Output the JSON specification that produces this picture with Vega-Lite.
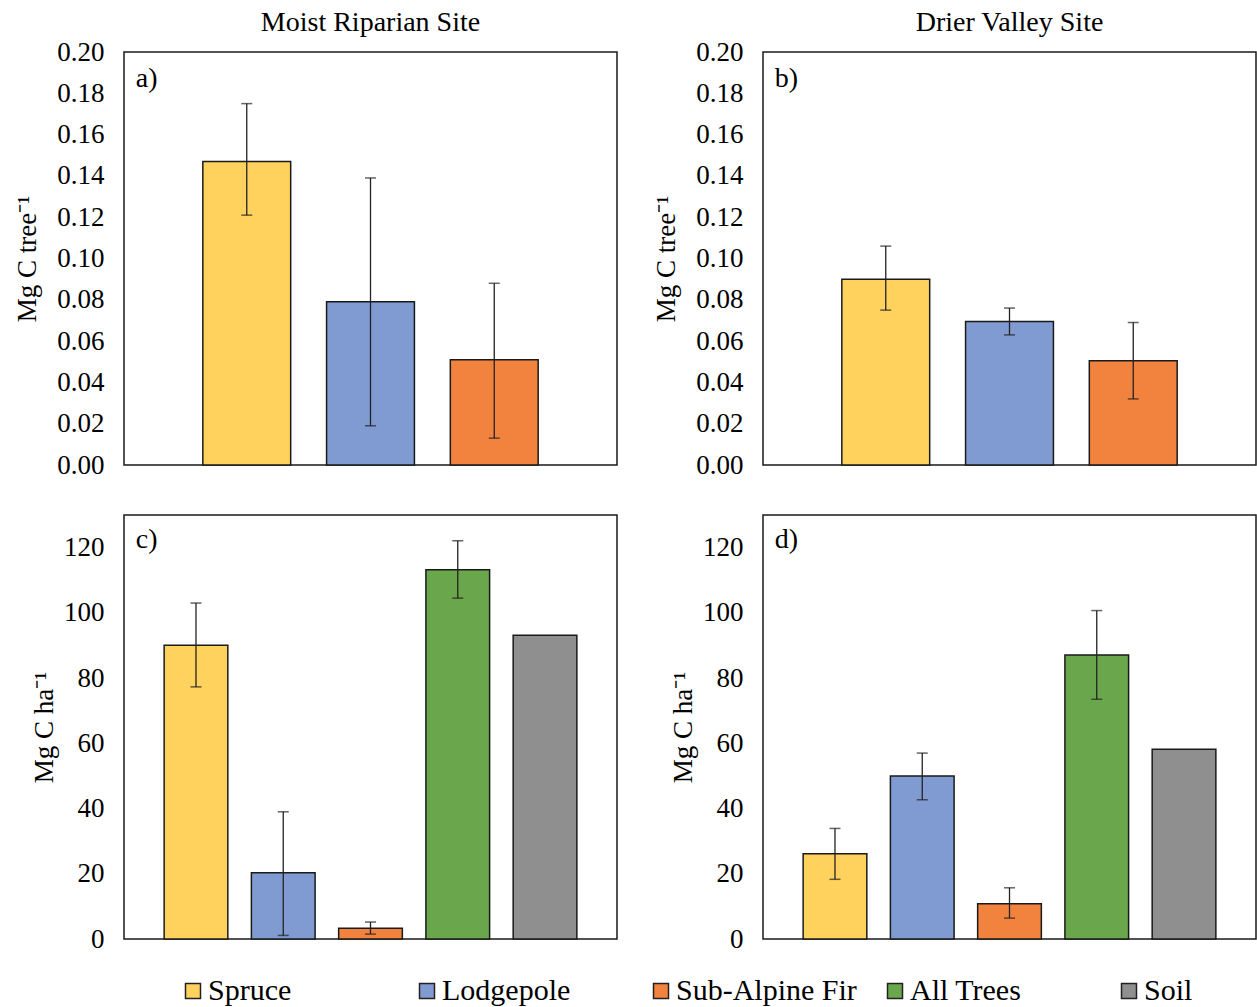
{
  "$schema": "https://vega.github.io/schema/vega-lite/v6.json",
  "padding": {"left": 13, "top": 8, "right": 0, "bottom": 0},
  "datasets": {
    "vals": [
      {"panel": "a", "species": "Spruce", "value": 0.147, "lo": 0.121, "hi": 0.175},
      {"panel": "a", "species": "Lodgepole", "value": 0.079, "lo": 0.019, "hi": 0.139},
      {"panel": "a", "species": "Sub-Alpine Fir", "value": 0.051, "lo": 0.013, "hi": 0.088},
      {"panel": "b", "species": "Spruce", "value": 0.090, "lo": 0.075, "hi": 0.106},
      {"panel": "b", "species": "Lodgepole", "value": 0.0695, "lo": 0.063, "hi": 0.076},
      {"panel": "b", "species": "Sub-Alpine Fir", "value": 0.0505, "lo": 0.032, "hi": 0.069},
      {"panel": "c", "species": "Spruce", "value": 90.1, "lo": 77.3, "hi": 103.0},
      {"panel": "c", "species": "Lodgepole", "value": 20.3, "lo": 1.1, "hi": 39.0},
      {"panel": "c", "species": "Sub-Alpine Fir", "value": 3.3, "lo": 1.5, "hi": 5.2},
      {"panel": "c", "species": "All Trees", "value": 113.2, "lo": 104.5, "hi": 122.1},
      {"panel": "c", "species": "Soil", "value": 93.1},
      {"panel": "d", "species": "Spruce", "value": 26.1, "lo": 18.3, "hi": 33.9},
      {"panel": "d", "species": "Lodgepole", "value": 50.0, "lo": 42.7, "hi": 57.0},
      {"panel": "d", "species": "Sub-Alpine Fir", "value": 10.8, "lo": 6.4, "hi": 15.7},
      {"panel": "d", "species": "All Trees", "value": 87.1, "lo": 73.5, "hi": 100.7},
      {"panel": "d", "species": "Soil", "value": 58.2}
    ],
    "labels": [
      {"panel": "a", "label": "a)"},
      {"panel": "b", "label": "b)"},
      {"panel": "c", "label": "c)"},
      {"panel": "d", "label": "d)"}
    ]
  },
  "columns": 2,
  "bounds": "flush",
  "spacing": {"row": 50, "column": 146},
  "concat": [
    {
      "title": {"text": "Moist Riparian Site"},
      "width": 493, "height": 413,
      "resolve": {"scale": {"x": "independent"}},
      "layer": [
        {
          "data": {"name": "vals"},
          "transform": [{"filter": "datum.panel == 'a'"}],
          "encoding": {
            "x": {"field": "species", "type": "nominal", "axis": null,
                  "scale": {"domain": ["Spruce", "Lodgepole", "Sub-Alpine Fir"], "paddingInner": 0.29, "paddingOuter": 0.637}}
          },
          "layer": [
            {"mark": {"type": "bar", "stroke": "#1a1a1a", "strokeWidth": 1.5},
             "encoding": {
               "y": {"field": "value", "type": "quantitative", "scale": {"domain": [0, 0.2]}, "title": "Mg C tree⁻¹",
                     "axis": {"values": [0, 0.02, 0.04, 0.06, 0.08, 0.1, 0.12, 0.14, 0.16, 0.18, 0.2], "format": ".2f", "titlePadding": 15}},
               "fill": {"field": "species", "type": "nominal",
                        "scale": {"domain": ["Spruce", "Lodgepole", "Sub-Alpine Fir", "All Trees", "Soil"], "range": ["#FFD25E", "#7F9BD2", "#F2833F", "#6AA64B", "#8F8F8F"]},
                        "legend": {"orient": "none", "legendX": 54, "legendY": 924, "direction": "horizontal", "columns": 5}}
             }},
            {"transform": [{"filter": "isValid(datum.lo)"}],
             "mark": {"type": "rule", "color": "#222", "strokeWidth": 1.3},
             "encoding": {"y": {"field": "lo", "type": "quantitative", "title": "Mg C tree⁻¹"}, "y2": {"field": "hi"}}},
            {"transform": [{"filter": "isValid(datum.lo)"}],
             "mark": {"type": "tick", "color": "#222", "size": 11, "thickness": 1.5},
             "encoding": {"y": {"field": "lo", "type": "quantitative", "title": "Mg C tree⁻¹"}}},
            {"transform": [{"filter": "isValid(datum.hi)"}],
             "mark": {"type": "tick", "color": "#222", "size": 11, "thickness": 1.5},
             "encoding": {"y": {"field": "hi", "type": "quantitative", "title": "Mg C tree⁻¹"}}}
          ]
        },
        {
          "data": {"name": "labels"},
          "transform": [{"filter": "datum.panel == 'a'"}],
          "mark": {"type": "text", "align": "left", "baseline": "middle", "font": "Liberation Serif", "fontSize": 28, "color": "black"},
          "encoding": {
            "x": {"datum": 0.024, "type": "quantitative", "scale": {"domain": [0, 1]}, "axis": null},
            "y": {"datum": 0.187, "type": "quantitative", "title": "Mg C tree⁻¹"},
            "text": {"field": "label"}
          }
        }
      ]
    },
    {
      "title": {"text": "Drier Valley Site"},
      "width": 493, "height": 413,
      "resolve": {"scale": {"x": "independent"}},
      "layer": [
        {
          "data": {"name": "vals"},
          "transform": [{"filter": "datum.panel == 'b'"}],
          "encoding": {
            "x": {"field": "species", "type": "nominal", "axis": null,
                  "scale": {"domain": ["Spruce", "Lodgepole", "Sub-Alpine Fir"], "paddingInner": 0.29, "paddingOuter": 0.637}}
          },
          "layer": [
            {"mark": {"type": "bar", "stroke": "#1a1a1a", "strokeWidth": 1.5},
             "encoding": {
               "y": {"field": "value", "type": "quantitative", "scale": {"domain": [0, 0.2]}, "title": "Mg C tree⁻¹",
                     "axis": {"values": [0, 0.02, 0.04, 0.06, 0.08, 0.1, 0.12, 0.14, 0.16, 0.18, 0.2], "format": ".2f", "titlePadding": 15}},
               "fill": {"field": "species", "type": "nominal"}
             }},
            {"transform": [{"filter": "isValid(datum.lo)"}],
             "mark": {"type": "rule", "color": "#222", "strokeWidth": 1.3},
             "encoding": {"y": {"field": "lo", "type": "quantitative", "title": "Mg C tree⁻¹"}, "y2": {"field": "hi"}}},
            {"transform": [{"filter": "isValid(datum.lo)"}],
             "mark": {"type": "tick", "color": "#222", "size": 11, "thickness": 1.5},
             "encoding": {"y": {"field": "lo", "type": "quantitative", "title": "Mg C tree⁻¹"}}},
            {"transform": [{"filter": "isValid(datum.hi)"}],
             "mark": {"type": "tick", "color": "#222", "size": 11, "thickness": 1.5},
             "encoding": {"y": {"field": "hi", "type": "quantitative", "title": "Mg C tree⁻¹"}}}
          ]
        },
        {
          "data": {"name": "labels"},
          "transform": [{"filter": "datum.panel == 'b'"}],
          "mark": {"type": "text", "align": "left", "baseline": "middle", "font": "Liberation Serif", "fontSize": 28, "color": "black"},
          "encoding": {
            "x": {"datum": 0.024, "type": "quantitative", "scale": {"domain": [0, 1]}, "axis": null},
            "y": {"datum": 0.187, "type": "quantitative", "title": "Mg C tree⁻¹"},
            "text": {"field": "label"}
          }
        }
      ]
    },
    {
      "width": 493, "height": 424,
      "resolve": {"scale": {"x": "independent"}},
      "layer": [
        {
          "data": {"name": "vals"},
          "transform": [{"filter": "datum.panel == 'c'"}],
          "encoding": {
            "x": {"field": "species", "type": "nominal", "axis": null,
                  "scale": {"domain": ["Spruce", "Lodgepole", "Sub-Alpine Fir", "All Trees", "Soil"], "paddingInner": 0.27, "paddingOuter": 0.46}}
          },
          "layer": [
            {"mark": {"type": "bar", "stroke": "#1a1a1a", "strokeWidth": 1.5},
             "encoding": {
               "y": {"field": "value", "type": "quantitative", "scale": {"domain": [0, 130]}, "title": "Mg C ha⁻¹",
                     "axis": {"values": [0, 20, 40, 60, 80, 100, 120], "titlePadding": 5}},
               "fill": {"field": "species", "type": "nominal"}
             }},
            {"transform": [{"filter": "isValid(datum.lo)"}],
             "mark": {"type": "rule", "color": "#222", "strokeWidth": 1.3},
             "encoding": {"y": {"field": "lo", "type": "quantitative", "title": "Mg C ha⁻¹"}, "y2": {"field": "hi"}}},
            {"transform": [{"filter": "isValid(datum.lo)"}],
             "mark": {"type": "tick", "color": "#222", "size": 11, "thickness": 1.5},
             "encoding": {"y": {"field": "lo", "type": "quantitative", "title": "Mg C ha⁻¹"}}},
            {"transform": [{"filter": "isValid(datum.hi)"}],
             "mark": {"type": "tick", "color": "#222", "size": 11, "thickness": 1.5},
             "encoding": {"y": {"field": "hi", "type": "quantitative", "title": "Mg C ha⁻¹"}}}
          ]
        },
        {
          "data": {"name": "labels"},
          "transform": [{"filter": "datum.panel == 'c'"}],
          "mark": {"type": "text", "align": "left", "baseline": "middle", "font": "Liberation Serif", "fontSize": 28, "color": "black"},
          "encoding": {
            "x": {"datum": 0.024, "type": "quantitative", "scale": {"domain": [0, 1]}, "axis": null},
            "y": {"datum": 122.3, "type": "quantitative", "title": "Mg C ha⁻¹"},
            "text": {"field": "label"}
          }
        }
      ]
    },
    {
      "width": 493, "height": 424,
      "resolve": {"scale": {"x": "independent"}},
      "layer": [
        {
          "data": {"name": "vals"},
          "transform": [{"filter": "datum.panel == 'd'"}],
          "encoding": {
            "x": {"field": "species", "type": "nominal", "axis": null,
                  "scale": {"domain": ["Spruce", "Lodgepole", "Sub-Alpine Fir", "All Trees", "Soil"], "paddingInner": 0.27, "paddingOuter": 0.46}}
          },
          "layer": [
            {"mark": {"type": "bar", "stroke": "#1a1a1a", "strokeWidth": 1.5},
             "encoding": {
               "y": {"field": "value", "type": "quantitative", "scale": {"domain": [0, 130]}, "title": "Mg C ha⁻¹",
                     "axis": {"values": [0, 20, 40, 60, 80, 100, 120], "titlePadding": 5}},
               "fill": {"field": "species", "type": "nominal"}
             }},
            {"transform": [{"filter": "isValid(datum.lo)"}],
             "mark": {"type": "rule", "color": "#222", "strokeWidth": 1.3},
             "encoding": {"y": {"field": "lo", "type": "quantitative", "title": "Mg C ha⁻¹"}, "y2": {"field": "hi"}}},
            {"transform": [{"filter": "isValid(datum.lo)"}],
             "mark": {"type": "tick", "color": "#222", "size": 11, "thickness": 1.5},
             "encoding": {"y": {"field": "lo", "type": "quantitative", "title": "Mg C ha⁻¹"}}},
            {"transform": [{"filter": "isValid(datum.hi)"}],
             "mark": {"type": "tick", "color": "#222", "size": 11, "thickness": 1.5},
             "encoding": {"y": {"field": "hi", "type": "quantitative", "title": "Mg C ha⁻¹"}}}
          ]
        },
        {
          "data": {"name": "labels"},
          "transform": [{"filter": "datum.panel == 'd'"}],
          "mark": {"type": "text", "align": "left", "baseline": "middle", "font": "Liberation Serif", "fontSize": 28, "color": "black"},
          "encoding": {
            "x": {"datum": 0.024, "type": "quantitative", "scale": {"domain": [0, 1]}, "axis": null},
            "y": {"datum": 122.3, "type": "quantitative", "title": "Mg C ha⁻¹"},
            "text": {"field": "label"}
          }
        }
      ]
    }
  ],
  "config": {
    "font": "Liberation Serif",
    "background": "white",
    "view": {"stroke": "#1a1a1a", "strokeWidth": 1.5},
    "title": {"font": "Liberation Serif", "fontSize": 28, "fontWeight": "normal", "color": "black", "offset": 1},
    "axis": {"labelFont": "Liberation Serif", "labelFontSize": 27, "labelColor": "black", "titleFont": "Liberation Serif", "titleFontSize": 27, "titleFontWeight": "normal", "titleColor": "black", "grid": false, "domain": false, "ticks": false, "labelPadding": 20},
    "legend": {"title": null, "labelFont": "Liberation Serif", "labelFontSize": 30, "labelColor": "black", "labelLimit": 0, "symbolType": "square", "symbolSize": 225, "symbolStrokeColor": "#222", "symbolStrokeWidth": 1.5, "symbolOpacity": 1, "labelOffset": 0, "columnPadding": 23, "gridAlign": "all"}
  }
}
